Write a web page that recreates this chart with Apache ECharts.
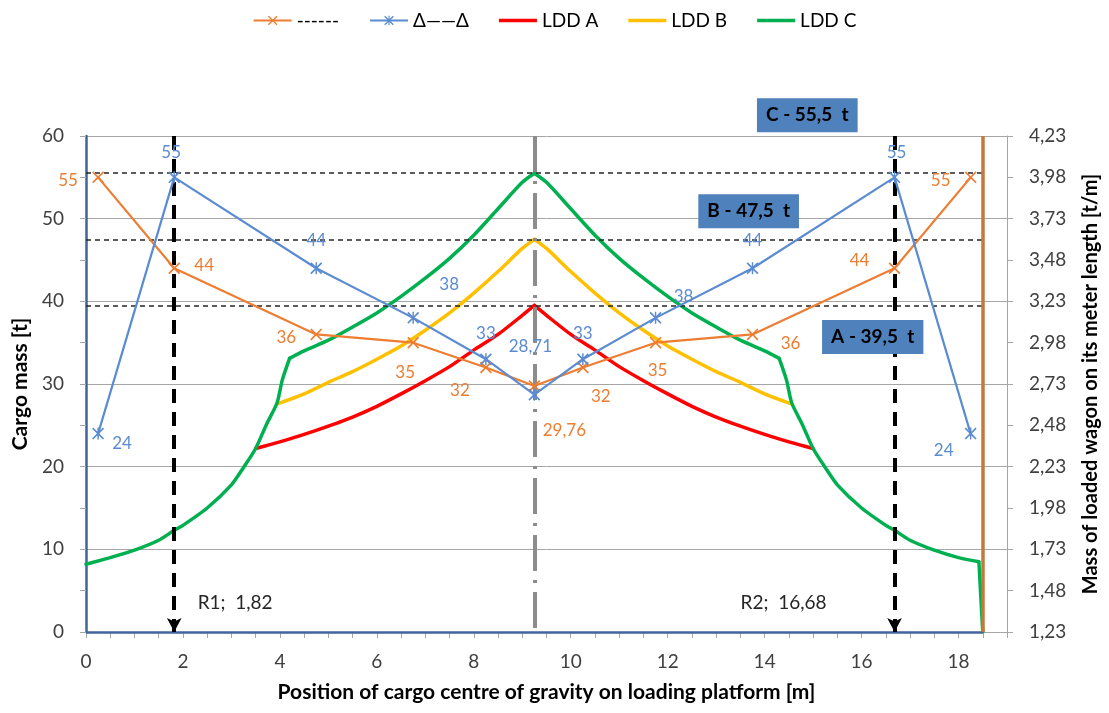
<!DOCTYPE html>
<html>
<head>
<meta charset="utf-8">
<script src="https://cdn.jsdelivr.net/npm/echarts@6/dist/echarts.min.js"></script>
<style>
  html, body { margin: 0; padding: 0; background: #fff; }
  #chart { width: 1109px; height: 713px; }
</style>
</head>
<body>
<div id="chart"></div>
<script>
// measuring points along the platform
const pointX = [0.25, 1.82, 4.75, 6.75, 8.25, 9.25, 10.25, 11.75, 13.75, 16.68, 18.25]
const orangeY = [55, 44, 36, 35, 32, 29.76, 32, 35, 36, 44, 55]
const blueY = [24, 55, 44, 38, 33, 28.71, 33, 38, 44, 55, 24]

// LDD curves
const lddAX = [3.5, 4.0, 4.5, 5.0, 5.5, 6.0, 6.5, 7.0, 7.5, 8.0, 8.5, 9.0, 9.25, 9.5, 10.0, 10.5, 11.0, 11.5, 12.0, 12.5, 13.0, 13.5, 14.0, 14.5, 15.0]
const lddAY = [22.2, 23.0, 23.9, 24.9, 26.0, 27.3, 28.8, 30.4, 32.1, 34.1, 36.0, 38.3, 39.5, 38.3, 36.0, 34.1, 32.1, 30.4, 28.8, 27.3, 26.0, 24.9, 23.9, 23.0, 22.2]

const lddBX = [3.95, 4.5, 5.0, 5.5, 6.0, 6.5, 7.0, 7.5, 8.0, 8.5, 9.0, 9.25, 9.5, 10.0, 10.5, 11.0, 11.5, 12.0, 12.5, 13.0, 13.5, 14.0, 14.55]
const lddBY = [27.6, 28.8, 30.2, 31.5, 33.0, 34.6, 36.5, 38.6, 41.0, 43.6, 46.4, 47.5, 46.4, 43.6, 41.0, 38.6, 36.5, 34.6, 33.0, 31.5, 30.2, 28.8, 27.6]

const lddCX = [0, 0.5, 1.0, 1.5, 1.82, 2.0, 2.5, 3.0, 3.25, 3.5, 3.73, 3.94, 4.05, 4.2, 4.5, 5.0, 5.5, 6.0, 6.5, 7.0, 7.5, 8.0, 8.5, 9.0, 9.25,
  9.5, 10.0, 10.5, 11.0, 11.5, 12.0, 12.5, 13.0, 13.5, 14.0, 14.3, 14.45, 14.56, 14.77, 15.0, 15.25, 15.5, 16.0, 16.5, 16.68, 17.0, 17.5, 18.0, 18.42, 18.5]
const lddCY = [8.2, 9.0, 9.9, 11.1, 12.3, 12.9, 15.0, 17.8, 19.9, 22.2, 25.2, 27.7, 30.5, 33.1, 34.0, 35.3, 36.9, 38.6, 40.6, 42.8, 45.2, 48.0, 51.2, 54.4, 55.5,
  54.4, 51.2, 48.0, 45.2, 42.8, 40.6, 38.6, 36.9, 35.3, 34.0, 33.1, 30.5, 27.7, 25.2, 22.2, 19.9, 17.8, 15.0, 12.9, 12.3, 11.1, 9.9, 9.0, 8.5, 0]

// limits and supports
const limitA = 39.5
const limitB = 47.5
const limitC = 55.5
const supportR1 = 1.82
const supportR2 = 16.68
const centreX = 9.25
const platformEnd = 18.5

// right axis tick labels
const rightLabels = ['1,23', '1,48', '1,73', '1,98', '2,23', '2,48', '2,73', '2,98', '3,23', '3,48', '3,73', '3,98', '4,23']

// label offsets (style only)
const orangeLabelOffset = [[-30, 3], [30, -3], [-30, 3], [-8, 30], [-26, 23], [30, 45], [18, 29], [2, 28], [38, 9], [-35, -8], [-30, 3]]
const blueLabelOffset = [[24, 10], [-3, -25], [0, -28], [36, -33], [0, -26], [-4, -48], [0, -26], [28, -21], [0, -28], [2, -25], [-27, 17]]

const FONT = 'Lato, "Open Sans", sans-serif'
const ORANGE = '#ed7d31'
const BLUE = '#5b8bd0'

const xMark = 'path://M1,0L5,4L9,0L10,1L6,5L10,9L9,10L5,6L1,10L0,9L4,5L0,1Z'
const starMark = 'path://M1,0L5,4L9,0L10,1L6,5L10,9L9,10L5,6L1,10L0,9L4,5L0,1Z M4.4,0L5.6,0L5.6,10L4.4,10Z'
// plain bar for the legend, with empty corners so it keeps its thickness
const barIcon = 'path://M0,0L0,0.01L0.01,0ZM0,4.3L38,4.3L38,7.7L0,7.7ZM38,12L38,11.99L37.99,12Z'

const pairs = (xs, ys) => xs.map((x, i) => [x, ys[i]])
const comma = v => String(v).replace('.', ',')

function pointData(ys, offsets) {
  return ys.map((y, i) => ({
    value: [pointX[i], y],
    label: { offset: offsets[i] },
  }))
}

// one curve split at its corners, every piece drawn smooth
function lddSeries(name, color, xs, ys, cuts) {
  const pts = pairs(xs, ys)
  const out = []
  for (let k = 0; k < cuts.length - 1; k++) {
    const piece = pts.slice(cuts[k], cuts[k + 1] + 1)
    out.push({
      name,
      type: 'line',
      color,
      symbol: 'none',
      smooth: piece.length > 2 ? 0.25 : false,
      lineStyle: { width: 3.5, join: 'round', cap: 'round' },
      data: piece,
      z: 3,
    })
  }
  return out
}

const chart = echarts.init(document.getElementById('chart'))

const option = {
  animation: false,
  textStyle: { fontFamily: FONT },
  legend: {
    top: 6,
    left: 'center',
    itemWidth: 38,
    itemHeight: 12,
    itemGap: 30,
    data: [
      { name: '------' },
      { name: 'Δ——Δ' },
      { name: 'LDD A', icon: barIcon },
      { name: 'LDD B', icon: barIcon },
      { name: 'LDD C', icon: barIcon },
    ],
    textStyle: { fontSize: 19, color: '#000', fontFamily: FONT },
  },
  grid: { left: 86, right: 102, top: 136, bottom: 81 },
  xAxis: {
    type: 'value',
    min: 0,
    max: 19,
    interval: 2,
    name: 'Position of cargo centre of gravity on loading platform [m]',
    nameLocation: 'middle',
    nameGap: 50,
    nameTextStyle: { fontSize: 21, fontWeight: 'bold', color: '#000' },
    axisLine: { onZero: false, lineStyle: { color: '#a6a6a6', width: 1 } },
    axisTick: { show: true, length: 6, lineStyle: { color: '#a6a6a6' } },
    minorTick: { show: true, splitNumber: 4, length: 6, lineStyle: { color: '#a6a6a6' } },
    splitLine: { show: false },
    axisLabel: { fontSize: 19, color: '#404040', margin: 20, showMaxLabel: false },
  },
  yAxis: [
    {
      type: 'value',
      min: 0,
      max: 60,
      interval: 10,
      name: 'Cargo mass [t]',
      nameLocation: 'middle',
      nameRotate: 90,
      nameGap: 48,
      nameTextStyle: { fontSize: 21, fontWeight: 'bold', color: '#000' },
      axisLine: { show: true, lineStyle: { color: '#41659a', width: 2.5 } },
      axisTick: { show: true, length: 6, lineStyle: { color: '#a6a6a6' } },
      minorTick: { show: true, splitNumber: 2, length: 6, lineStyle: { color: '#a6a6a6' } },
      splitLine: { show: true, lineStyle: { color: '#a6a6a6', width: 1 } },
      axisLabel: { fontSize: 19, color: '#404040', margin: 22 },
    },
    {
      type: 'value',
      position: 'right',
      min: 0,
      max: 60,
      interval: 5,
      name: 'Mass of loaded wagon on its meter length [t/m]',
      nameLocation: 'middle',
      nameRotate: 90,
      nameGap: 74,
      nameTextStyle: { fontSize: 20, fontWeight: 'bold', color: '#000' },
      axisLine: { show: true, lineStyle: { color: '#a6a6a6', width: 1 } },
      axisTick: { show: true, length: 6, lineStyle: { color: '#a6a6a6' } },
      splitLine: { show: false },
      axisLabel: {
        fontSize: 19,
        color: '#404040',
        margin: 22,
        formatter: v => rightLabels[Math.round(v / 5)],
      },
    },
  ],
  series: [
    {
      // reference lines
      name: 'guides',
      type: 'line',
      data: [],
      z: 1,
      markLine: {
        silent: true,
        animation: false,
        symbol: 'none',
        label: { show: false },
        data: [
          [{ coord: [0, limitC], lineStyle: { color: '#262626', type: [5, 4], width: 1.5 } }, { coord: [platformEnd, limitC] }],
          [{ coord: [0, limitB], lineStyle: { color: '#262626', type: [5, 4], width: 1.5 } }, { coord: [platformEnd, limitB] }],
          [{ coord: [0, limitA], lineStyle: { color: '#262626', type: [5, 4], width: 1.5 } }, { coord: [platformEnd, limitA] }],
          [{ coord: [centreX, 60], lineStyle: { color: '#8c8c8c', type: [36, 9, 3, 9], width: 4 } }, { coord: [centreX, 0] }],
          [{ coord: [0, 0], lineStyle: { color: '#41659a', type: 'solid', width: 2.5 } }, { coord: [platformEnd, 0] }],
        ],
      },
    },
    {
      name: 'supports',
      type: 'line',
      data: [],
      z: 2,
      markLine: {
        silent: true,
        animation: false,
        symbol: ['none', 'arrow'],
        symbolSize: [11, 14],
        label: { show: false },
        lineStyle: { color: '#000', type: [14, 9], width: 4 },
        data: [
          [{ coord: [supportR1, 60] }, { coord: [supportR1, 0] }],
          [{ coord: [supportR2, 60] }, { coord: [supportR2, 0] }],
        ],
      },
    },
    ...lddSeries('LDD A', '#ff0000', lddAX, lddAY, [0, 12, lddAX.length - 1]),
    ...lddSeries('LDD B', '#ffc000', lddBX, lddBY, [0, 11, lddBX.length - 1]),
    ...lddSeries('LDD C', '#00b050', lddCX, lddCY, [0, 13, 24, 35, 48, 49]),
    {
      name: 'platform end',
      type: 'line',
      data: [],
      z: 4,
      markLine: {
        silent: true,
        animation: false,
        symbol: 'none',
        label: { show: false },
        lineStyle: { color: '#c5783a', type: 'solid', width: 3.5 },
        data: [[{ coord: [platformEnd, 0] }, { coord: [platformEnd, 60] }]],
      },
    },
    {
      name: '------',
      type: 'line',
      color: ORANGE,
      symbol: xMark,
      symbolSize: 12,
      lineStyle: { width: 2.2 },
      data: pointData(orangeY, orangeLabelOffset),
      label: {
        show: true,
        position: 'inside',
        color: ORANGE,
        fontSize: 17,
        fontFamily: FONT,
        formatter: p => comma(p.value[1]),
      },
      z: 5,
    },
    {
      name: 'Δ——Δ',
      type: 'line',
      color: BLUE,
      symbol: starMark,
      symbolSize: 12,
      lineStyle: { width: 2.2 },
      data: pointData(blueY, blueLabelOffset),
      label: {
        show: true,
        position: 'inside',
        color: BLUE,
        fontSize: 17,
        fontFamily: FONT,
        formatter: p => comma(p.value[1]),
      },
      z: 5,
    },
    {
      name: 'notes',
      type: 'line',
      data: [],
      z: 10,
      markPoint: {
        silent: true,
        animation: false,
        symbol: 'rect',
        symbolSize: 0,
        label: {
          show: true,
          position: 'right',
          formatter: '{b}',
          color: '#262626',
          fontSize: 19,
          fontFamily: FONT,
        },
        data: [
          { name: 'R1;  1,82', coord: [2.2, 3.5] },
          { name: 'R2;  16,68', coord: [13.4, 3.5] },
        ],
      },
    },
  ],
}

chart.setOption(option)

// limit boxes (C sits above the plot, so place all three as graphics)
const boxes = [
  { text: 'C - 55,5  t', at: [14.88, 62.5] },
  { text: 'B - 47,5  t', at: [13.67, 50.9] },
  { text: 'A - 39,5  t', at: [16.23, 35.7] },
]
chart.setOption({
  graphic: boxes.map(b => {
    const [px, py] = chart.convertToPixel({ xAxisIndex: 0, yAxisIndex: 0 }, b.at)
    return {
      type: 'text',
      x: px,
      y: py,
      z: 100,
      style: {
        text: b.text,
        align: 'center',
        verticalAlign: 'middle',
        font: `bold 19px ${FONT}`,
        fill: '#000',
        backgroundColor: '#4f81bd',
        padding: [8, 9, 7, 9],
      },
    }
  }),
})
</script>
</body>
</html>
